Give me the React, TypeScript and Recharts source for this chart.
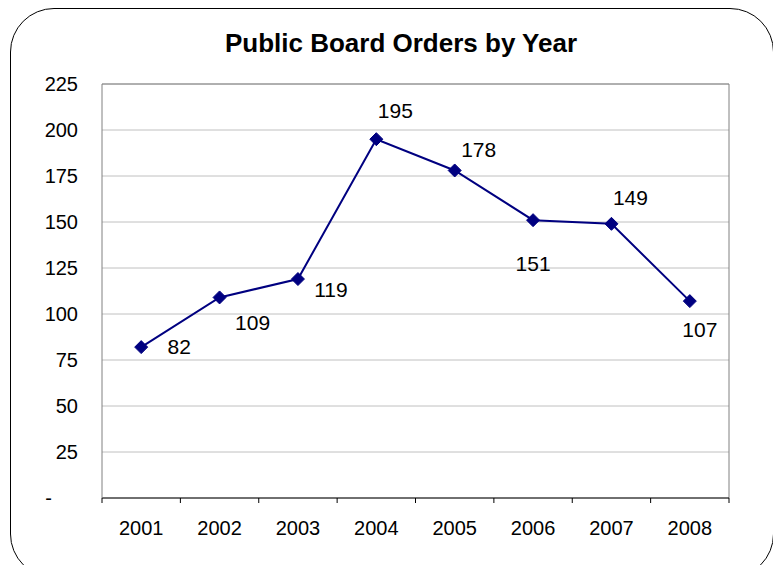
import { LineChart, Line, XAxis, YAxis, CartesianGrid, ReferenceLine, LabelList } from "recharts";

const years = ["2001", "2002", "2003", "2004", "2005", "2006", "2007", "2008"];
const orders = [82, 109, 119, 195, 178, 151, 149, 107];
const yTicks = [0, 25, 50, 75, 100, 125, 150, 175, 200, 225];
const sepTicks = [0.5, 1.5, 2.5, 3.5, 4.5, 5.5, 6.5, 7.5, 8.5];

// where each data label sits relative to its marker (dx, dy)
const labelOffsets = [
  [38, -1], [33, 25], [33, 10], [19, -29],
  [24, -21], [0, 43], [19, -26], [10, 28]
];

const data = years.map((y, i) => ({ idx: i + 1, year: y, orders: orders[i] }));

const NAVY = "#000080";
const FONT = "'Liberation Sans', Arial, sans-serif";

function Diamond(props: any) {
  const { cx, cy } = props;
  if (cx == null || cy == null) return null;
  const r = 6.5;
  return <polygon points={`${cx},${cy - r} ${cx + r},${cy} ${cx},${cy + r} ${cx - r},${cy}`} fill={NAVY} stroke={NAVY} />;
}

function YTick(props: any) {
  const { x, y, payload } = props;
  const zero = payload.value === 0;
  return (
    <text x={zero ? x - 26 : x} y={y} dy="0.355em" textAnchor="end" fontSize={20} fill="#000" fontFamily={FONT}>
      {zero ? "-" : payload.value}
    </text>
  );
}

function XTick(props: any) {
  const { x, y, payload, index } = props;
  if (payload.value > 8) return null;
  return (
    <text x={x + 39.2} y={y + 32} textAnchor="middle" fontSize={20} fill="#000" fontFamily={FONT}>
      {years[index]}
    </text>
  );
}

function PointLabel(props: any) {
  const { x, y, value, index } = props;
  const [dx, dy] = labelOffsets[index];
  return (
    <text x={x + dx} y={y + dy} textAnchor="middle" dominantBaseline="central" fontSize={21} fill="#000" fontFamily={FONT}>
      {value}
    </text>
  );
}

export default function App() {
  return (
    <div style={{ position: "absolute", left: 0, top: 0, width: 773, height: 565, overflow: "hidden", background: "#fff" }}>
      <div style={{ position: "absolute", left: 10, top: 8, width: 764, height: 570, border: "1.5px solid #000", borderRadius: 44, boxSizing: "border-box" }} />
      <div style={{ position: "absolute", left: 0, top: 30, width: 802, textAlign: "center", fontFamily: FONT, fontWeight: "bold", fontSize: 26, lineHeight: "26px", color: "#000" }}>
        Public Board Orders by Year
      </div>
      <div style={{ position: "absolute", left: 0, top: 0 }}>
        <LineChart width={773} height={565} data={data} margin={{ top: 84, right: 44, bottom: 37, left: 0 }}>
          <CartesianGrid horizontal vertical={false} stroke="#c0c0c0" strokeWidth={1} />
          <XAxis
            dataKey="idx"
            type="number"
            domain={[0.5, 8.5]}
            ticks={sepTicks}
            interval={0}
            height={30}
            tickSize={5}
            tickMargin={0}
            stroke="#000"
            axisLine={{ stroke: "#000" }}
            tickLine={{ stroke: "#000" }}
            tick={<XTick />}
          />
          <YAxis
            domain={[0, 225]}
            ticks={yTicks}
            interval={0}
            width={102}
            tickLine={false}
            tickSize={6}
            tickMargin={18}
            axisLine={{ stroke: "#808080" }}
            tick={<YTick />}
          />
          <ReferenceLine y={225} stroke="#808080" />
          <ReferenceLine x={8.5} stroke="#808080" />
          <Line
            type="linear"
            dataKey="orders"
            stroke={NAVY}
            strokeWidth={2}
            dot={<Diamond />}
            activeDot={false}
            isAnimationActive={false}
          >
            <LabelList dataKey="orders" content={<PointLabel />} />
          </Line>
        </LineChart>
      </div>
    </div>
  );
}
